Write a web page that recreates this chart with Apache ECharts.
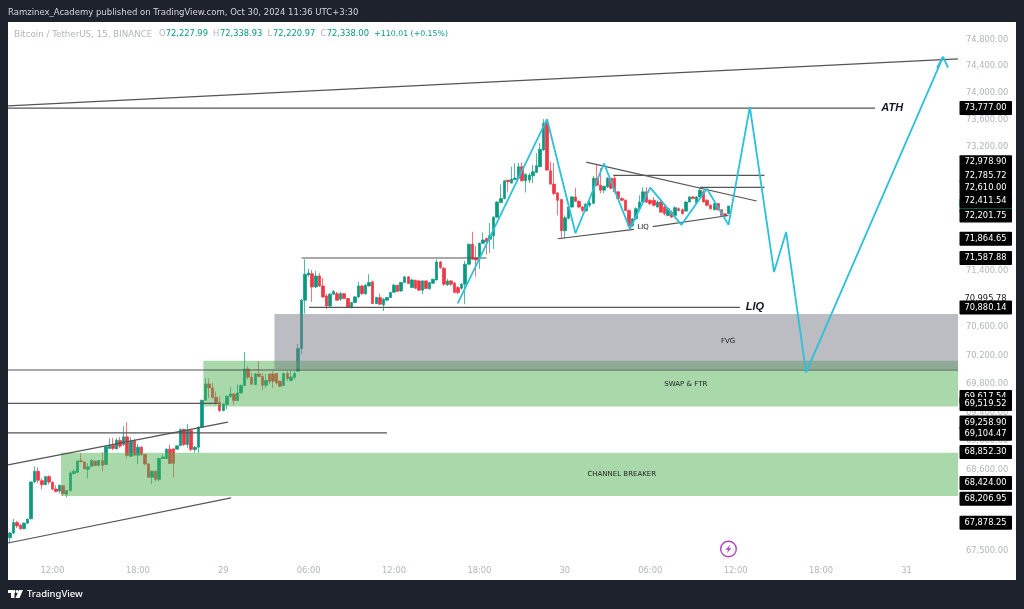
<!DOCTYPE html>
<html>
<head>
<meta charset="utf-8">
<title>BTCUSDT 15m</title>
<style>
html,body{margin:0;padding:0;background:#1e222d;}
#chart{width:1024px;height:609px;}
</style>
<script src="https://cdn.jsdelivr.net/npm/echarts@6/dist/echarts.min.js"></script>
</head>
<body>
<div id="chart"></div>
<script>
/* open, close, low, high of each 15 minute bar, first bar is Oct 28 09:00 */
var candles = [
[67674,67739,67600,67753],[67739,67882,67725,67933],[67882,67836,67808,67905],[67846,67799,67781,67864],[67799,67874,67788,67885],
[67874,67929,67864,67933],[67933,68437,67926,68446],[68437,68585,68426,68654],[68585,68460,68419,68641],[68456,68401,68335,68488],
[68401,68512,68391,68516],[68512,68437,68405,68530],[68433,68340,68322,68446],[68340,68308,68294,68391],[68312,68391,68280,68405],
[68387,68276,68252,68391],[68270,68322,68224,68322],[68322,68562,68308,68585],[68553,68585,68543,68613],[68571,68724,68557,68738],
[68731,68717,68710,68835],[68710,68617,68613,68724],[68613,68645,68488,68696],[68654,68734,68641,68752],[68724,68664,68654,68738],
[68668,68734,68654,68738],[68734,68668,68585,68849],[68678,68922,68668,68932],[68900,68942,68890,69043],[68946,68900,68876,69043],
[68894,69015,68890,69043],[69011,68932,68904,69057],[68955,69061,68932,69209],[69061,68803,68765,69265],[68793,69001,68779,69057],
[69011,68807,68793,69029],[68807,68918,68682,68960],[68918,68817,68793,68932],[68817,68686,68668,68825],[68686,68502,68492,68700],
[68502,68585,68409,68595],[68585,68474,68446,68595],[68474,68761,68446,68770],[68761,68783,68756,68817],[68761,68890,68756,68900],
[68890,68692,68686,68955],[68894,68696,68502,68904],[68890,68936,68886,68942],[68942,69163,68932,69177],[69163,68955,68932,69177],
[68955,69150,68908,69237],[69150,68886,68862,69163],[68886,68918,68839,68932],[68918,69195,68839,69209],[69195,69570,69186,69580],
[69570,69799,69566,69883],[69799,69743,69602,69879],[69743,69612,69594,69813],[69612,69542,69510,69696],[69542,69427,69408,69626],
[69427,69519,69417,69528],[69510,69626,69445,69640],[69626,69659,69602,69753],[69659,69566,69501,69673],[69566,69673,69556,69791],
[69673,69777,69664,69791],[69777,70010,69767,70249],[70010,69893,69861,70048],[69893,69795,69785,69954],[69791,69940,69781,69949],
[69940,69903,69893,70118],[69903,69781,69711,69954],[69781,69847,69743,69940],[69940,69837,69795,69945],[69940,69837,69743,69977],
[69945,69813,69791,69949],[69837,69767,69753,69847],[69777,69945,69767,69954],[69945,69875,69837,69977],[69847,69897,69837,69987],
[69893,69945,69861,69977],[69977,70296,69977,70361],[70296,70983,70216,71002],[70983,71355,70791,71569],[71345,71373,71316,71431],
[71363,71173,70959,71416],[71173,71330,71159,71402],[71330,71187,71173,71373],[71187,71030,71016,71302],[71044,70901,70859,71073],
[70901,71069,70887,71087],[71069,71106,71059,71130],[71077,70983,70973,71102],[70997,71077,70973,71102],[71077,71006,71002,71087],
[71006,70887,70873,71016],[70887,70949,70866,70959],[70949,71030,70944,71044],[71030,71187,71016,71245],[71187,71077,71059,71202],
[71077,71198,71059,71216],[71187,71235,71180,71355],[71245,70934,70930,71259],[70934,71020,70930,71030],[71020,70926,70916,71077],
[70916,70997,70830,71016],[70983,71020,70973,71030],[71020,71092,71016,71102],[71097,71198,71087,71216],[71198,71106,71102,71202],
[71116,71235,71102,71245],[71235,71316,71230,71330],[71316,71220,71216,71330],[71163,71273,71159,71288],[71269,71155,71145,71273],
[71259,71126,71116,71273],[71126,71259,71069,71273],[71259,71149,71145,71266],[71149,71235,71130,71245],[71226,71283,71216,71288],
[71273,71531,71266,71569],[71531,71449,71431,71545],[71441,71212,71187,71459],[71202,71259,71187,71288],[71259,71212,71187,71273],
[71226,71092,71087,71245],[71163,71092,71073,71187],[71155,71212,71130,71230],[71212,71498,70926,71545],[71498,71785,71488,71794],
[71785,71569,71559,71966],[71592,71559,71320,71760],[71578,71800,71431,71809],[71800,71848,71789,71956],[71873,71819,71641,71878],
[71859,71907,71660,72094],[71907,72177,71716,72191],[72177,72397,72172,72408],[72389,72447,72389,72654],[72447,72706,72437,72717],
[72717,72692,72540,72717],[72673,72732,72668,72913],[72724,72746,72717,72963],[72742,72913,72732,72967],[72913,72706,72702,72977],
[72706,72801,72536,72815],[72717,72790,72673,72820],[72780,72839,72673,72938],[72830,72927,72824,73114],[72913,73169,72908,73261],
[73158,73551,73144,73615],[73551,72864,72849,73600],[72854,72658,72653,72986],[72658,72521,72496,72967],[72530,72422,72202,72540],
[72433,71981,71859,72437],[71981,72168,71867,72202],[72162,72324,72143,72349],[72324,72471,72315,72486],[72471,72408,72397,72603],
[72408,72324,72305,72422],[72324,72275,72246,72338],[72268,72364,72260,72378],[72349,72383,72319,72422],[72378,72742,72364,72776],
[72742,72643,72628,72938],[72643,72570,72525,72893],[72570,72628,72525,72628],[72618,72742,72599,72761],[72742,72599,72584,72746],
[72742,72545,72540,72776],[72545,72447,72437,72555],[72447,72422,72408,72467],[72422,72275,72260,72437],[72275,72054,72040,72290],
[72054,72153,72040,72157],[72153,72300,72143,72319],[72300,72397,72290,72496],[72397,72545,72393,72614],[72545,72397,72378,72614],
[72422,72374,72349,72437],[72422,72349,72334,72467],[72324,72397,72319,72422],[72397,72250,72246,72422],[72324,72227,72202,72349],
[72202,72300,72187,72319],[72250,72177,72172,72275],[72202,72315,72187,72334],[72300,72275,72260,72319],[72285,72227,72216,72305],
[72265,72397,72260,72408],[72397,72471,72393,72481],[72471,72447,72437,72481],[72389,72471,72378,72481],[72471,72570,72467,72609],
[72545,72397,72393,72570],[72422,72349,72334,72437],[72349,72300,72290,72364],[72285,72374,72275,72378],[72374,72285,72275,72378],
[72285,72202,72187,72290],[72227,72195,72157,72235],[72227.99,72338,72220.97,72338.93]
];

/* labels on the time scale */
var dayLabels = {"00:00/0":"29","00:00/1":"30","00:00/2":"31"};
var timeSlots = [];
for (var m = 9*60, day = -1, n = 0; n < 267; n++, m += 15) {
    if (m == 24*60) { m = 0; day++; }
    var hh = Math.floor(m/60), mm = m%60;
    var slot = (hh<10?"0":"")+hh+":"+(mm<10?"0":"")+mm;
    timeSlots.push(m == 0 ? dayLabels[slot+"/"+day] : slot);
}

/* price scale */
var priceTicks = [74800,74400,74000,73600,73200,72800,72400,71800,71400,70600,70200,69800,69400,69000,68600,67500];
/* drawing labels on the price scale, later ones sit on top */
var plainPriceTag = [70995.78];
var priceTags = [72338.00,69617.54,73777.00,72978.90,72785.72,72610.00,72411.54,72201.75,71864.65,71587.88,70880.14,69519.52,69258.90,69104.47,68852.30,68424.00,68206.95,67878.25];

/* zones, [bar, price, bar, price] */
var greenZones = [[14.4,68840,266.5,68245],[54.4,70125,266.5,69485]];
var grayZones = [[74.4,70785,266.5,70010]];

/* trend lines, [bar, price, bar, price] */
var trendLines = [
    [-0.5,73808,266.5,74510],
    [-0.5,73777,243.2,73777],
    [-0.5,69995,266.5,69995],
    [-0.5,69528,58.5,69528],
    [-0.5,69115,106,69115],
    [-0.5,68672,61.3,69265],
    [-0.5,67604,62.2,68220],
    [82,71587.88,134,71587.88],
    [84.1,70880.14,205.2,70880.14],
    [154,71864.65,175.4,72000],
    [180.7,72040,202,72201.75],
    [162,72978.90,209.9,72411.54],
    [169.6,72785.72,212.1,72785.72],
    [194,72610,212.1,72610]
];

/* the hand drawn forecast path */
var forecastPath = [[125.9,70938],[151,73612],[159,71944],[167,72960],[174.3,72008],[180,72607],[188.8,72066],[195.9,72592],[202,72066],[208,73795],[214.8,71385],[218.2,71963],[223.8,69961],[262.3,74541]];
var arrowHead = [[260.6,74377],[262.3,74541],[263.7,74377]];

/* notes on the chart, [bar, price, text] */
var bigNotes = [[248,73777,"ATH"],[209.4,70880.14,"LIQ"]];
var smallNotes = [[178,72035,"LIQ"],[201.9,70400,"FVG"],[190,69795,"SWAP & FTR"],[172,68545,"CHANNEL BREAKER"]];

var upColor = "#089981", downColor = "#f23645", axisColor = "#b2b5be";
var uiFont = "DejaVu Sans";
var myChart = echarts.init(document.getElementById("chart"));

function segmentItem(params, api) {
    var a = api.coord([api.value(0), api.value(1)]);
    var b = api.coord([api.value(2), api.value(3)]);
    return {type:"line", shape:{x1:a[0],y1:a[1],x2:b[0],y2:b[1]}, style:{stroke:"#555",lineWidth:1.2,fill:null}};
}
function zoneItem(fill) {
    return function (params, api) {
        var a = api.coord([api.value(0), api.value(1)]);
        var b = api.coord([api.value(2), api.value(3)]);
        return {type:"rect", shape:{x:a[0],y:a[1],width:b[0]-a[0],height:b[1]-a[1]}, style:{fill:fill}};
    };
}
function noteItem(font, color) {
    return function (params, api) {
        var p = api.coord([api.value(0), api.value(1)]);
        return {type:"text", x:p[0], y:p[1], style:{text:notesText[params.seriesName][params.dataIndex], font:font, fill:color, align:"center", verticalAlign:"middle"}};
    };
}
var notesText = {
    big: bigNotes.map(function (d) { return d[2]; }),
    small: smallNotes.map(function (d) { return d[2]; })
};
function priceLabel(v) {
    return v.toLocaleString("en-US", {minimumFractionDigits:2, maximumFractionDigits:2});
}
function tagItem(params, api) {
    var v = api.value(1);
    var y = api.coord([0, v])[1];
    var x = params.coordSys.x + params.coordSys.width;
    var bg = v == 72338 ? upColor : "#000";
    return {type:"group", children:[
        {type:"rect", shape:{x:x+1.5,y:y-7,width:52.5,height:14,r:1}, style:{fill:bg}},
        {type:"text", x:x+27.5, y:y, style:{text:priceLabel(v), font:"8.3px '"+uiFont+"'", fill:"#fff", align:"center", verticalAlign:"middle"}}
    ]};
}
function plainTagItem(params, api) {
    var v = api.value(1);
    var y = api.coord([0, v])[1];
    var x = params.coordSys.x + params.coordSys.width;
    return {type:"text", x:x+27.5, y:y, style:{text:priceLabel(v), font:"8.3px '"+uiFont+"'", fill:"#131722", align:"center", verticalAlign:"middle"}};
}
function legendBlock(x, text, fill, size) {
    return {type:"text", left:x, top:30, silent:true, z:20, style:{text:text, font:(size||8.3)+"px '"+uiFont+"'", fill:fill}};
}

var option = {
    backgroundColor: "#1e222d",
    animation: false,
    grid: {left:8, right:66, top:22.5, bottom:49.5},
    xAxis: [
        {
            type: "category",
            data: timeSlots,
            axisLine: {show:false},
            axisTick: {show:false},
            splitLine: {show:false},
            axisLabel: {
                color: axisColor,
                fontFamily: uiFont,
                fontSize: 8.3,
                margin: 7,
                hideOverlap: false,
                interval: function (i, v) {
                    return v.length < 3 || v == "06:00" || v == "12:00" || v == "18:00";
                }
            }
        },
        {type:"value", min:-0.5, max:266.5, show:false}
    ],
    yAxis: {
        type: "log",
        min: 67380,
        max: 75056,
        position: "right",
        axisLine: {show:false},
        axisTick: {show:false},
        splitLine: {show:false},
        axisLabel: {
            customValues: priceTicks,
            color: axisColor,
            fontFamily: uiFont,
            fontSize: 8.3,
            margin: 8,
            formatter: function (v) { return priceLabel(Number(v)); }
        }
    },
    series: [
        {
            type: "candlestick",
            data: candles,
            barWidth: 3,
            z: 2,
            itemStyle: {color:upColor, color0:downColor, borderColor:upColor, borderColor0:downColor, borderWidth:0.7}
        },
        {type:"custom", xAxisIndex:1, z:3, data:greenZones, encode:{x:[0,2],y:[1,3]}, renderItem:zoneItem("rgba(76,175,80,0.48)")},
        {type:"custom", xAxisIndex:1, z:3, data:grayZones, encode:{x:[0,2],y:[1,3]}, renderItem:zoneItem("rgba(120,123,134,0.5)")},
        {type:"custom", xAxisIndex:1, z:4, data:trendLines, encode:{x:[0,2],y:[1,3]}, renderItem:segmentItem},
        {type:"line", xAxisIndex:1, z:5, data:forecastPath, showSymbol:false, lineStyle:{color:"#2bc0db",width:1.8}},
        {type:"line", xAxisIndex:1, z:5, data:arrowHead, showSymbol:false, lineStyle:{color:"#2bc0db",width:1.8}},
        {type:"custom", name:"big", xAxisIndex:1, z:6, data:bigNotes, encode:{x:0,y:1}, renderItem:noteItem("italic bold 11px 'Liberation Sans'","#131722")},
        {type:"custom", name:"small", xAxisIndex:1, z:6, data:smallNotes, encode:{x:0,y:1}, renderItem:noteItem("7px 'DejaVu Sans'","#222")},
        {type:"custom", xAxisIndex:1, z:7, data:plainPriceTag.map(function (v) { return [0,v]; }), encode:{y:1}, renderItem:plainTagItem},
        {type:"custom", xAxisIndex:1, z:8, data:priceTags.map(function (v) { return [0,v]; }), encode:{y:1}, renderItem:tagItem}
    ],
    graphic: [
        {type:"rect", z:-10, silent:true, shape:{x:8,y:22,width:1008,height:558}, style:{fill:"#fff"}},
        {type:"text", left:8, top:8, z:20, silent:true, style:{text:"Ramzinex_Academy published on TradingView.com, Oct 30, 2024 11:36 UTC+3:30", font:"8.5px '"+uiFont+"'", fill:"#d1d4dc"}},
        legendBlock(14,"Bitcoin / TetherUS, 15, BINANCE",axisColor,8.7),
        legendBlock(159,"O",axisColor),
        legendBlock(165.7,"72,227.99",upColor),
        legendBlock(213,"H",axisColor),
        legendBlock(220,"72,338.93",upColor),
        legendBlock(267.5,"L",axisColor),
        legendBlock(273,"72,220.97",upColor),
        legendBlock(320.5,"C",axisColor),
        legendBlock(326.7,"72,338.00",upColor),
        legendBlock(374.3,"+110.01 (+0.15%)",upColor,7.8),
        /* earnings mark */
        {type:"circle", z:20, silent:true, shape:{cx:728.5,cy:549,r:7.8}, style:{fill:"#fff",stroke:"#ab47bc",lineWidth:1.4}},
        {type:"polygon", z:20, silent:true, shape:{points:[[730.5,544.5],[725.5,549.8],[728.3,549.8],[726.5,553.5],[731.5,548.2],[728.7,548.2]]}, style:{fill:"#ab47bc"}},
        /* TradingView logo */
        {type:"rect", z:20, silent:true, shape:{x:8,y:590,width:7,height:3}, style:{fill:"#fff"}},
        {type:"rect", z:20, silent:true, shape:{x:11,y:590,width:3.5,height:8}, style:{fill:"#fff"}},
        {type:"circle", z:20, silent:true, shape:{cx:17,cy:591.5,r:1.5}, style:{fill:"#fff"}},
        {type:"polygon", z:20, silent:true, shape:{points:[[19,590],[23,590],[19.5,598],[15.5,598]]}, style:{fill:"#fff"}},
        {type:"text", left:27, top:589, z:20, silent:true, style:{text:"TradingView", font:"500 9.5px 'Noto Sans'", fill:"#fff"}}
    ]
};
myChart.setOption(option);
</script>
</body>
</html>
